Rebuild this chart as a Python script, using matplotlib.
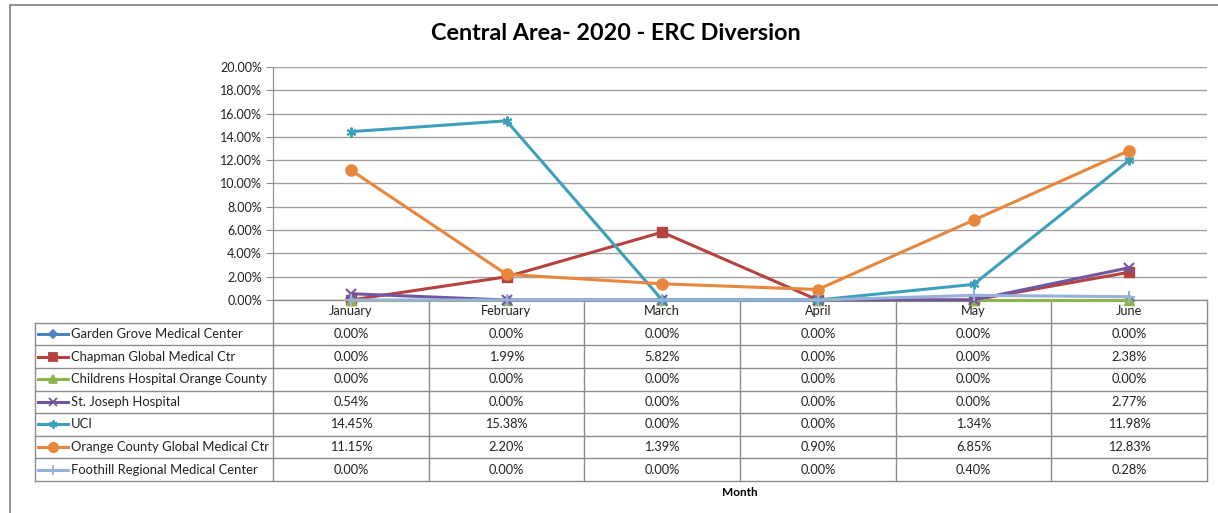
import numpy as np
import matplotlib.pyplot as plt
from matplotlib.lines import Line2D

plt.rcParams['font.family'] = ['Lato', 'DejaVu Sans']

W, H = 1218, 513

months = ['January', 'February', 'March', 'April', 'May', 'June']
names = ['Garden Grove Medical Center', 'Chapman Global Medical Ctr',
         'Childrens Hospital Orange County', 'St. Joseph Hospital', 'UCI',
         'Orange County Global Medical Ctr', 'Foothill Regional Medical Center']
garden_grove = [0.00, 0.00, 0.00, 0.00, 0.00, 0.00]
chapman = [0.00, 1.99, 5.82, 0.00, 0.00, 2.38]
childrens = [0.00, 0.00, 0.00, 0.00, 0.00, 0.00]
st_joseph = [0.54, 0.00, 0.00, 0.00, 0.00, 2.77]
uci = [14.45, 15.38, 0.00, 0.00, 1.34, 11.98]
orange_county = [11.15, 2.20, 1.39, 0.90, 6.85, 12.83]
foothill = [0.00, 0.00, 0.00, 0.00, 0.40, 0.28]
series = [garden_grove, chapman, childrens, st_joseph, uci, orange_county, foothill]

colors = ['#4F81BD', '#B5423F', '#8DB44E', '#7157A0', '#3DA0BA', '#E8873C', '#96B1DA']
markers = ['D', 's', '^', 'x', (6, 2, 0), 'o', '+']
msizes = [5, 7, 7, 7, 7, 8, 8]

fig = plt.figure(figsize=(W / 100, H / 100), dpi=100)

# overlay in pixel coords for border and data table
ov = fig.add_axes([0, 0, 1, 1], zorder=0)
ov.set_xlim(0, W)
ov.set_ylim(H, 0)
ov.axis('off')
ov.plot([10, 10, W], [H, 5, 5], color='#7f7f7f', lw=1.2)

# plot area
px0, px1, py0, py1 = 273, 1207, 67, 300
ax = fig.add_axes([px0 / W, 1 - py1 / H, (px1 - px0) / W, (py1 - py0) / H], zorder=1)
ax.patch.set_visible(False)
x = np.arange(len(months))
for vals, c, m, ms in zip(series, colors, markers, msizes):
    ax.plot(x, vals, color=c, lw=2.2, marker=m, ms=ms, mew=1.5 if m in ('x', '+') or isinstance(m, tuple) else 1,
            mec=c, mfc=c, clip_on=False, zorder=3)
ax.set_xlim(-0.5, 5.5)
ax.set_ylim(0, 20)
ax.set_yticks(np.arange(0, 21, 2))
ax.set_yticklabels([f'{v:.2f}%' for v in np.arange(0, 21, 2)], fontsize=9, color='#222222')
ax.set_xticks([])
ax.grid(axis='y', color='#a0a0a0', lw=1)
ax.set_axisbelow(True)
for s in ['top', 'right', 'bottom']:
    ax.spines[s].set_visible(False)
ax.spines['left'].set_color('#8c8c8c')
ax.tick_params(axis='y', length=5, color='#8c8c8c', pad=3)

fig.text(616 / W, 1 - 34 / H, 'Central Area- 2020 - ERC Diversion', ha='center', va='center',
         fontsize=16.8, fontweight='bold')

# data table
tl, tr = 35, 1207
row_top = 300
hdr_bot = 322.7
rh = 22.6
n = len(names)
bot = hdr_bot + n * rh
col_w = (tr - px0) / len(months)
gc = '#8c8c8c'
ov.plot([px0, tr], [row_top, row_top], color=gc, lw=1)
for i in range(len(months) + 1):
    xx = px0 + i * col_w
    ov.plot([xx, xx], [row_top, bot], color=gc, lw=1)
ov.plot([tl, tl], [hdr_bot, bot], color=gc, lw=1)
for r in range(n + 1):
    yy = hdr_bot + r * rh
    ov.plot([tl, tr], [yy, yy], color=gc, lw=1)
for i, mname in enumerate(months):
    ov.text(px0 + (i + 0.5) * col_w, (row_top + hdr_bot) / 2, mname, ha='center', va='center',
            fontsize=9.2, color='#222222')
for r, (name, vals, c, m, ms) in enumerate(zip(names, series, colors, markers, msizes)):
    yc = hdr_bot + (r + 0.5) * rh
    ov.add_line(Line2D([38, 68], [yc, yc], color=c, lw=2.2))
    ov.add_line(Line2D([53], [yc], color=c, marker=m, ms=ms * 0.85, mec=c, mfc=c, mew=1.3))
    ov.text(71, yc, name, ha='left', va='center', fontsize=9.4, color='#222222')
    for i, v in enumerate(vals):
        ov.text(px0 + (i + 0.5) * col_w, yc, f'{v:.2f}%', ha='center', va='center',
                fontsize=9.2, color='#222222')

ov.text(740, 492, 'Month', ha='center', va='center', fontsize=8.5, fontweight='bold')

fig.savefig('out.png', dpi=100)
